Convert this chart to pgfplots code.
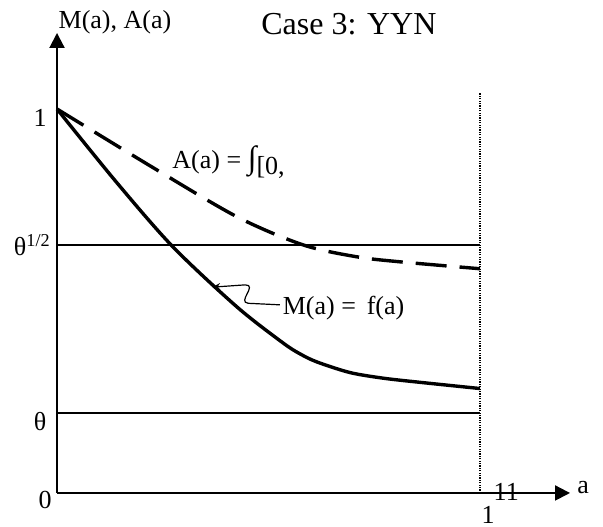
\documentclass[border=0pt]{standalone}
\usepackage{fontspec}
\setmainfont{Liberation Serif}
\usepackage{pgfplots}
\pgfplotsset{compat=1.18}
\usetikzlibrary{arrows.meta}
\tikzset{lab/.style={inner sep=0pt, font=\fontsize{13bp}{15bp}\selectfont}}
\begin{document}
\begin{tikzpicture}
\begin{axis}[
  scale only axis,
  width=256.5bp, height=230bp,
  xmin=0, xmax=1.2128, ymin=0, ymax=1.198,
  axis lines=left,
  ticks=none,
  clip=false,
  axis line style={line width=1bp},
  x axis line style={-{Triangle[length=7.5bp,width=7.5bp]}},
  y axis line style={-{Triangle[length=7.5bp,width=7.5bp]}},
]
% reference lines
\addplot[black, line width=0.8bp] coordinates {(0,0.646) (1,0.646)};
\addplot[black, line width=0.8bp] coordinates {(0,0.208) (1,0.208)};
\addplot[black, line width=0.6bp, dash pattern=on 0.6bp off 0.6bp] coordinates {(1,0) (1,1.042)};
% A(a) dashed
\addplot[black, line width=1.7bp, dash pattern=on 15.5bp off 6.5bp, smooth] coordinates {
 (0,1) (0.220,0.852) (0.426,0.719)
 (0.582,0.646) (0.709,0.615) (0.811,0.602) (1.0,0.584)};
% M(a) solid
\addplot[black, line width=1.7bp, smooth] coordinates {
 (0,1) (0.140,0.810) (0.274,0.641) (0.426,0.484)
 (0.534,0.391) (0.575,0.362) (0.615,0.341) (0.693,0.3135) (0.771,0.299) (0.851,0.289)
 (1.0,0.272)};
% annotation arrow
\draw[line width=0.6bp, -{Stealth[length=4bp,width=3.5bp]}]
  (axis cs:0.527,0.490) -- (axis cs:0.452,0.494)
  .. controls (axis cs:0.425,0.497) and (axis cs:0.475,0.542) .. (axis cs:0.445,0.542)
  -- (axis cs:0.367,0.536);
% labels
\node[lab] at (axis cs:0.137,1.227) {M(a), A(a)};
\node[lab, font=\fontsize{16bp}{19bp}\selectfont] at (axis cs:0.690,1.221) {Case 3: YYN};
\node[lab, anchor=west] at (axis cs:0.272,0.862) {A(a) = {\fontsize{16bp}{19bp}\selectfont ∫}\raisebox{-0.55ex}{[0,}};
\node[lab, anchor=west] at (axis cs:0.533,0.482) {M(a) =\, f(a)};
\node[lab] at (axis cs:-0.040,0.977) {1};
\node[lab, anchor=east] at (axis cs:-0.014,0.646) {θ\textsuperscript{1/2}};
\node[lab] at (axis cs:-0.040,0.185) {θ};
\node[lab] at (axis cs:-0.028,-0.018) {0};
\node[lab] at (axis cs:1.019,-0.058) {1};
\node[lab] at (axis cs:1.062,0.003) {11};
\node[lab] at (axis cs:1.244,0.013) {a};
\coordinate (bl) at (axis cs:-0.1348,-0.0885);
\coordinate (tr) at (axis cs:1.2908,1.2839);
\end{axis}
\path (bl) rectangle (tr);
\end{tikzpicture}
\end{document}
